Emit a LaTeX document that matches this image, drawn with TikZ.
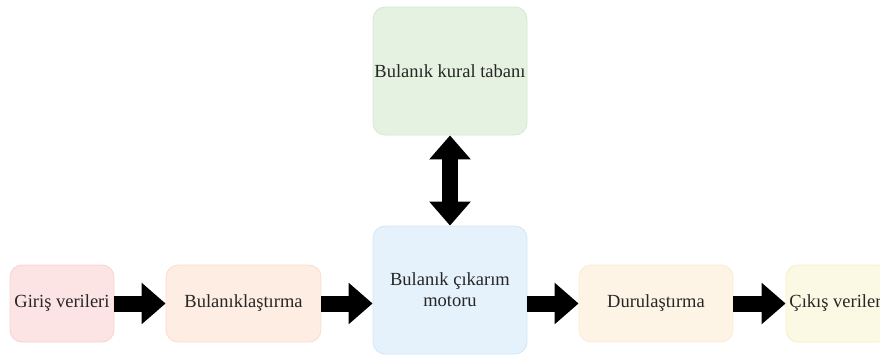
\documentclass[tikz,border=0pt]{standalone}
\usepackage{fontspec}
\setmainfont{Liberation Serif}
\usetikzlibrary{arrows.meta}
\definecolor{pinkF}{HTML}{FCE4E4}\definecolor{pinkD}{HTML}{F8D3D1}
\definecolor{peachF}{HTML}{FDEDE2}\definecolor{peachD}{HTML}{FBDDCA}
\definecolor{blueF}{HTML}{E5F2FC}\definecolor{blueD}{HTML}{D3E6F8}
\definecolor{greenF}{HTML}{E5F2E1}\definecolor{greenD}{HTML}{D3E9CE}
\definecolor{sandF}{HTML}{FEF4E6}\definecolor{sandD}{HTML}{FCE9D2}
\definecolor{lemonF}{HTML}{FBF9E3}\definecolor{lemonD}{HTML}{F4EFC8}
\tikzset{
  box/.style={rounded corners=12pt, line width=0.8pt, inner sep=0pt, align=center,
    font=\fontsize{18.5}{21}\selectfont, text=black!85},
  fatarrow/.style={line width=16pt, draw=black, -{Triangle[width=40pt,length=24pt]}},
  fatdouble/.style={line width=16pt, draw=black, {Triangle[width=40pt,length=24pt]}-{Triangle[width=40pt,length=24pt]}}
}
\begin{document}
\begin{tikzpicture}[x=1pt,y=-1pt]
\useasboundingbox (0,0) rectangle (880,356);
\clip (0,0) rectangle (880,356);
\node[box, fill=pinkF, draw=pinkD, minimum width=104pt, minimum height=77pt] (in) at (62,303.5) {Giriş verileri};
\node[box, fill=peachF, draw=peachD, minimum width=155pt, minimum height=77pt] (fuz) at (243.5,303.5) {Bulanıklaştırma};
\node[box, fill=blueF, draw=blueD, minimum width=154pt, minimum height=128pt] (eng) at (450,290) {Bulanık çıkarım\\motoru};
\node[box, fill=greenF, draw=greenD, minimum width=154pt, minimum height=128pt] (rule) at (450,71) {Bulanık kural tabanı};
\node[box, fill=sandF, draw=sandD, minimum width=154pt, minimum height=77pt] (def) at (656,303.5) {Durulaştırma};
\node[box, fill=lemonF, draw=lemonD, minimum width=104pt, minimum height=77pt] (out) at (838,303.5) {Çıkış verileri};
\draw[fatarrow] (in.east) -- (fuz.west);
\draw[fatarrow] (fuz.east) -- (fuz.east -| eng.west);
\draw[fatarrow] (eng.east |- def.west) -- (def.west);
\draw[fatarrow] (def.east) -- (out.west);
\draw[fatdouble] (rule.south) -- (eng.north);
\end{tikzpicture}
\end{document}
